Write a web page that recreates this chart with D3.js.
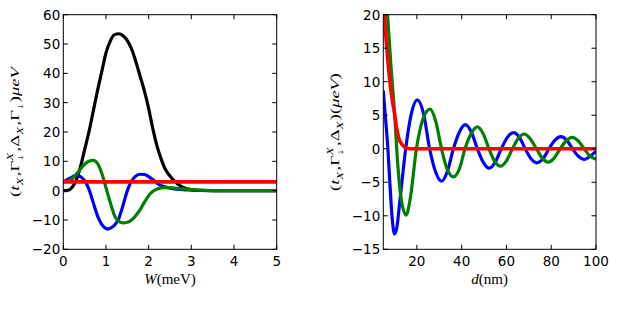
<!DOCTYPE html>
<html>

<head>
    <title>Overlap vs W and d</title>
    <script src="https://d3js.org/d3.v7.min.js"></script>
    <style>
        body { margin: 0; background: #fff; }
        .tick-label { font-family: "DejaVu Sans", sans-serif; font-size: 13.5px; fill: #000; }
        .math text { font-family: "Liberation Serif", "DejaVu Serif", serif; fill: #000; }
        .curve { fill: none; stroke-linejoin: round; stroke-linecap: butt; }
    </style>
</head>

<body>
    <div id="chart"></div>
    <script>
        // ---- left panel: curves vs W (meV) ----
        const wBlack = [[0, 0], [0.1, 0.1], [0.2, 1], [0.3, 3.5], [0.4, 8], [0.5, 14], [0.6, 20], [0.7, 27], [0.8, 34],
            [0.9, 40.5], [1.0, 47], [1.1, 51], [1.2, 53.2], [1.3, 53.5], [1.4, 52.8], [1.5, 51.2], [1.6, 48.3],
            [1.7, 44], [1.8, 39], [1.9, 34], [2.0, 28], [2.1, 21], [2.2, 15], [2.3, 10.5], [2.4, 7], [2.5, 5],
            [2.6, 3.3], [2.7, 2], [2.8, 1.2], [2.9, 0.6], [3.0, 0.3], [3.2, 0.05], [3.5, 0], [5, 0]];
        const wBlue = [[0, 3], [0.1, 3.8], [0.2, 4.6], [0.3, 5.2], [0.4, 4.8], [0.5, 3.4], [0.6, 0.5], [0.7, -4],
            [0.8, -8.5], [0.9, -11.5], [1.0, -12.9], [1.05, -13.1], [1.1, -12.8], [1.2, -11.8], [1.3, -9.5],
            [1.4, -5], [1.5, 0], [1.6, 3.3], [1.7, 5], [1.8, 5.6], [1.9, 5.5], [2.0, 4.8], [2.1, 3.7], [2.2, 2.5],
            [2.3, 1.7], [2.4, 1.2], [2.5, 0.9], [2.6, 0.6], [2.8, 0.35], [3.0, 0.2], [3.3, 0.05], [3.6, 0], [5, 0]];
        const wGreen = [[0, 3], [0.1, 3.3], [0.2, 4], [0.3, 5.5], [0.4, 7.3], [0.5, 9], [0.6, 10], [0.7, 10.3],
            [0.8, 9.3], [0.9, 6], [1.0, 1], [1.1, -4], [1.2, -8.5], [1.3, -10.5], [1.4, -11], [1.5, -10.8],
            [1.6, -10], [1.7, -8.5], [1.8, -6.5], [1.9, -4], [2.0, -1.7], [2.1, -0.2], [2.2, 0.6], [2.3, 0.95],
            [2.4, 1.05], [2.5, 1.0], [2.6, 0.9], [2.8, 0.6], [3.0, 0.35], [3.2, 0.15], [3.5, 0.02], [3.8, 0], [5, 0]];
        const wRed = [[0, 3], [5, 3]];
        const wTicks = [0, 1, 2, 3, 4, 5];
        const leftYTicks = [-20, -10, 0, 10, 20, 30, 40, 50, 60];

        // ---- right panel: curves vs d (nm) ----
        const dBlue = [[5, 8.7], [6, 4.5], [7, 0.3], [8, -5.5], [9, -10.5], [10, -12.7], [11, -11.8], [12.5, -7.5],
            [15, 0], [17.5, 5.2], [20.2, 7.3], [23, 5.2], [25.7, 0], [28.3, -3.4], [31, -4.85], [33.6, -3.4],
            [36.3, 0], [39, 2.5], [41.6, 3.6], [44.3, 2.5], [47, 0], [49.6, -2.0], [52.3, -2.9], [55, -2.0],
            [57.7, 0], [60.4, 1.7], [63.2, 2.4], [65.8, 1.7], [68.4, 0], [71, -1.5], [73.6, -2.1], [76.3, -1.5],
            [79, 0], [81.7, 1.3], [84.3, 1.8], [86.9, 1.3], [89.5, 0], [92.1, -1.1], [94.7, -1.6], [97.5, -1.1],
            [100, -0.35]];
        const dGreen = [[5, 30], [6, 25], [7, 19.5], [8.5, 12], [10, 5.5], [11.5, -2.5], [13, -7.5], [15.2, -9.9],
            [17, -7.5], [19.8, 0], [22.5, 4.2], [25.9, 5.9], [28.5, 4], [31, 0], [33.5, -3], [36.3, -4.2],
            [39, -3], [41.5, 0], [44.5, 2.4], [47, 3.25], [49.5, 2.3], [52.2, 0], [54.8, -1.9], [57.4, -2.6],
            [60, -1.8], [62.7, 0], [65.4, 1.6], [68, 2.2], [70.6, 1.5], [73.4, 0], [76, -1.4], [78.7, -2.0],
            [81.3, -1.4], [84, 0], [86.7, 1.2], [89.4, 1.7], [92, 1.2], [94.7, 0], [97.3, -1.1], [100, -1.55]];
        const dRed = [[5, 23], [6, 17.5], [7, 13.3], [8, 9.8], [9, 7.3], [10, 5.3], [11, 3.0], [12, 1.5], [13, 0.8],
            [14, 0.4], [15, 0.15], [16, 0.05], [18, 0], [100, 0]];
        const dTicks = [20, 40, 60, 80, 100];
        const rightYTicks = [-15, -10, -5, 0, 5, 10, 15, 20];

        const svg = d3.select("#chart").append("svg")
            .attr("width", 627)
            .attr("height", 313);

        const fmt = v => (v < 0 ? "\u2212" + Math.abs(v) : String(v));

        // builds a small math-style label from pieces, returns the group and its width
        function mathLabel(parent, parts, size) {
            const g = parent.append("g").attr("class", "math");
            let x = 0;
            parts.forEach(p => {
                if (p.sub !== undefined || p.sup !== undefined) {
                    let w = 0;
                    if (p.sub !== undefined) {
                        const t = g.append("text").attr("x", x).attr("y", size * 0.3)
                            .style("font-size", (size * 0.7) + "px")
                            .style("font-style", p.subIt ? "italic" : "normal").text(p.sub);
                        w = Math.max(w, t.node().getComputedTextLength());
                    }
                    if (p.sup !== undefined) {
                        const t = g.append("text").attr("x", x).attr("y", -size * 0.45)
                            .style("font-size", (size * 0.7) + "px")
                            .style("font-style", p.supIt ? "italic" : "normal").text(p.sup);
                        w = Math.max(w, t.node().getComputedTextLength());
                    }
                    x += w + 1;
                } else {
                    const t = g.append("text").attr("x", x).attr("y", 0)
                        .style("font-size", size + "px")
                        .style("font-style", p.it ? "italic" : "normal").text(p.t);
                    x += t.node().getComputedTextLength();
                }
            });
            return { g, width: x };
        }

        function panel(opts) {
            const x = d3.scaleLinear().domain(opts.xDomain).range([opts.left, opts.right]);
            const y = d3.scaleLinear().domain(opts.yDomain).range([opts.bottom, opts.top]);
            const g = svg.append("g");

            g.append("clipPath").attr("id", opts.id)
                .append("rect")
                .attr("x", opts.left).attr("y", opts.top)
                .attr("width", opts.right - opts.left).attr("height", opts.bottom - opts.top);

            const line = d3.line()
                .x(d => x(d[0]))
                .y(d => y(d[1]))
                .curve(d3.curveMonotoneX);

            const plot = g.append("g").attr("clip-path", `url(#${opts.id})`);
            opts.series.forEach(s => {
                plot.append("path")
                    .attr("class", "curve")
                    .attr("d", line(s.data))
                    .attr("stroke", s.color)
                    .attr("stroke-width", s.width);
            });

            // inward ticks on all four sides
            const tl = 4.5;
            g.selectAll(".xt").data(opts.xTicks).join("path")
                .attr("d", d => `M${x(d)},${opts.bottom}v${-tl}M${x(d)},${opts.top}v${tl}`)
                .attr("stroke", "#000").attr("stroke-width", 1);
            g.selectAll(".yt").data(opts.yTicks).join("path")
                .attr("d", d => `M${opts.left},${y(d)}h${tl}M${opts.right},${y(d)}h${-tl}`)
                .attr("stroke", "#000").attr("stroke-width", 1);

            g.append("rect")
                .attr("x", opts.left).attr("y", opts.top)
                .attr("width", opts.right - opts.left).attr("height", opts.bottom - opts.top)
                .attr("fill", "none").attr("stroke", "#000").attr("stroke-width", 1);

            g.selectAll(".xl").data(opts.xTicks).join("text")
                .attr("class", "tick-label")
                .attr("x", d => x(d)).attr("y", opts.bottom + 16.5)
                .attr("text-anchor", "middle")
                .text(fmt);
            g.selectAll(".yl").data(opts.yTicks).join("text")
                .attr("class", "tick-label")
                .attr("x", opts.left - 3).attr("y", d => y(d) + 5)
                .attr("text-anchor", "end")
                .text(fmt);

            const xl = mathLabel(g, opts.xLabel, 15);
            xl.g.attr("transform", `translate(${(opts.left + opts.right) / 2 - xl.width / 2},${opts.bottom + 35})`);

            // stretch along the text only, so glyph height stays as in the original
            const yl = mathLabel(g, opts.yLabel, 13);
            const k = opts.yLabelLen / yl.width;
            yl.g.attr("transform",
                `translate(${opts.yLabelX},${(opts.top + opts.bottom) / 2}) rotate(-90) scale(${k},1) translate(${-yl.width / 2},0)`);
        }

        panel({
            id: "clipLeft",
            left: 63.3, right: 276.7, top: 14.7, bottom: 249.3,
            xDomain: [0, 5], yDomain: [-20, 60],
            xTicks: wTicks, yTicks: leftYTicks,
            series: [
                { data: wBlack, color: "#000000", width: 3.2 },
                { data: wBlue, color: "#0000ff", width: 3.2 },
                { data: wGreen, color: "#008000", width: 3.2 },
                { data: wRed, color: "#ff0000", width: 3.6 }
            ],
            xLabel: [{ t: "W", it: true }, { t: "(meV)" }],
            yLabel: [{ t: "(" }, { t: "t", it: true }, { sub: "X", subIt: true }, { t: "," },
                { t: "Γ" }, { sub: "↓", sup: "X", supIt: true }, { t: "," },
                { t: "Δ" }, { sub: "X", subIt: true }, { t: "," },
                { t: "Γ" }, { sub: "↓" }, { t: ")" }, { t: "μeV", it: true }],
            yLabelX: 19, yLabelLen: 130
        });

        panel({
            id: "clipRight",
            left: 383.3, right: 596, top: 14.7, bottom: 249.3,
            xDomain: [5, 100], yDomain: [-15, 20],
            xTicks: dTicks, yTicks: rightYTicks,
            series: [
                { data: dBlue, color: "#0000ff", width: 3.2 },
                { data: dGreen, color: "#008000", width: 3.2 },
                { data: dRed, color: "#ff0000", width: 3.6 }
            ],
            xLabel: [{ t: "d", it: true }, { t: "(nm)" }],
            yLabel: [{ t: "(" }, { t: "t", it: true }, { sub: "X", subIt: true }, { t: "," },
                { t: "Γ" }, { sub: "↓", sup: "X", supIt: true }, { t: "," },
                { t: "Δ" }, { sub: "X", subIt: true }, { t: ")" }, { t: "(" }, { t: "μeV", it: true }, { t: ")" }],
            yLabelX: 339, yLabelLen: 118
        });
    </script>

</body>

</html>
